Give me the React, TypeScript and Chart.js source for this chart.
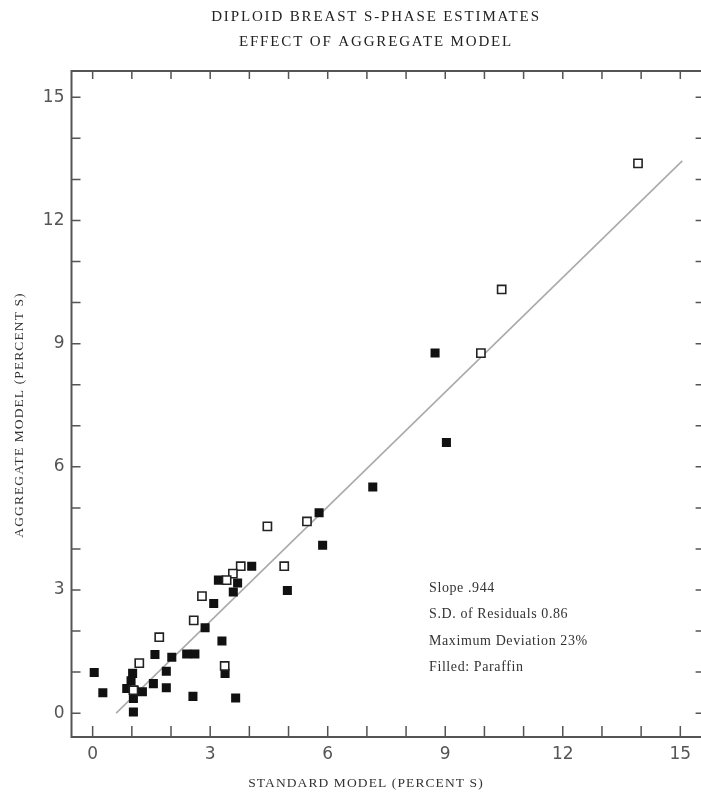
import React, { useEffect, useRef } from "react";
import { Chart, registerables } from "chart.js";

Chart.register(...registerables);

const TITLE_LINES = ["DIPLOID BREAST S-PHASE ESTIMATES", "EFFECT OF AGGREGATE MODEL"];
const X_TITLE = "STANDARD MODEL (PERCENT S)";
const Y_TITLE = "AGGREGATE MODEL (PERCENT S)";
const NOTES = ["Slope .944", "S.D. of Residuals 0.86", "Maximum Deviation 23%", "Filled: Paraffin"];

const TICK_VALUES = [0, 1, 2, 3, 4, 5, 6, 7, 8, 9, 10, 11, 12, 13, 14, 15];
const LABEL_STEP = 3;

// Filled squares (paraffin)
const filledX = [8.74, 9.03, 7.15, 5.78, 5.87, 4.06, 3.70, 3.59, 3.21, 4.97, 3.09, 2.87, 3.30, 2.40, 2.61, 2.02, 1.59, 1.88, 3.38, 0.04, 1.02, 0.98, 1.55, 0.87, 1.88, 0.26, 1.06, 1.27, 1.04, 1.04, 2.56, 3.65];
const filledY = [8.77, 6.59, 5.51, 4.88, 4.09, 3.58, 3.17, 2.95, 3.24, 2.99, 2.67, 2.08, 1.76, 1.44, 1.44, 1.36, 1.43, 1.02, 0.97, 0.99, 0.97, 0.79, 0.72, 0.60, 0.62, 0.50, 0.56, 0.52, 0.36, 0.03, 0.41, 0.37];

// Open squares (fresh)
const openX = [13.92, 10.44, 9.91, 4.46, 5.47, 4.89, 3.78, 3.58, 3.42, 2.79, 2.58, 1.70, 1.19, 3.37, 1.04];
const openY = [13.39, 10.32, 8.77, 4.55, 4.67, 3.58, 3.58, 3.40, 3.24, 2.85, 2.26, 1.85, 1.22, 1.15, 0.56];

// Regression line end points
const fitX = [0.6, 15.05];
const fitY = [0.0, 13.45];

const AXIS_COLOR = "#555";
const SERIF = "'Liberation Serif', 'DejaVu Serif', serif";

const framePlugin = {
  id: "frameAndText",
  afterDatasetsDraw(chart: any) {
    const { ctx, chartArea } = chart;
    const { left, right, top, bottom } = chartArea;
    const xs = chart.scales.x;
    const ys = chart.scales.y;
    ctx.save();
    ctx.strokeStyle = AXIS_COLOR;
    ctx.lineWidth = 2;
    ctx.beginPath();
    ctx.moveTo(left, top);
    ctx.lineTo(right, top);
    ctx.lineTo(right, bottom);
    ctx.lineTo(left, bottom);
    ctx.closePath();
    ctx.stroke();
    ctx.lineWidth = 1.5;
    ctx.beginPath();
    TICK_VALUES.forEach((v) => {
      const py = ys.getPixelForValue(v);
      ctx.moveTo(left, py);
      ctx.lineTo(left + 9, py);
      ctx.moveTo(right, py);
      ctx.lineTo(right - 9, py);
      const px = xs.getPixelForValue(v);
      ctx.moveTo(px, bottom);
      ctx.lineTo(px, bottom - 11);
      ctx.moveTo(px, top);
      ctx.lineTo(px, top + 8);
    });
    ctx.stroke();
    ctx.restore();
  },
  afterDraw(chart: any) {
    const { ctx } = chart;
    ctx.save();
    ctx.fillStyle = "#222";
    ctx.textBaseline = "middle";
    ctx.textAlign = "center";
    ctx.font = `15px ${SERIF}`;
    (ctx as any).letterSpacing = "1.85px";
    ctx.fillText(TITLE_LINES[0], 376, 17);
    ctx.fillText(TITLE_LINES[1], 376, 42);
    ctx.fillStyle = "#333";
    ctx.font = `13.5px ${SERIF}`;
    (ctx as any).letterSpacing = "1.1px";
    ctx.fillText(X_TITLE, 366, 783);
    ctx.save();
    ctx.translate(19, 415);
    ctx.rotate(-Math.PI / 2);
    ctx.fillText(Y_TITLE, 0, 0);
    ctx.restore();
    ctx.textAlign = "left";
    ctx.font = `14px ${SERIF}`;
    (ctx as any).letterSpacing = "0.6px";
    const ny = [588, 614, 641, 667];
    NOTES.forEach((t, i) => ctx.fillText(t, 429, ny[i]));
    ctx.restore();
  },
};

const tickCb = (v: any) => (Number(v) % LABEL_STEP === 0 ? String(v) : "");

export default function App() {
  const ref = useRef<HTMLCanvasElement | null>(null);
  useEffect(() => {
    if (!ref.current) return;
    const chart = new Chart(ref.current, {
      type: "scatter",
      data: {
        datasets: [
          {
            label: "Paraffin",
            data: filledX.map((x, i) => ({ x, y: filledY[i] })),
            pointStyle: "rect",
            pointRadius: 6.4,
            backgroundColor: "#111",
            borderColor: "#111",
            borderWidth: 0,
            order: 2,
          },
          {
            label: "Fresh",
            data: openX.map((x, i) => ({ x, y: openY[i] })),
            pointStyle: "rect",
            pointRadius: 5.8,
            backgroundColor: "#fff",
            borderColor: "#222",
            borderWidth: 1.6,
            order: 1,
          },
          {
            type: "line",
            label: "Fit",
            data: fitX.map((x, i) => ({ x, y: fitY[i] })),
            borderColor: "#aaa",
            borderWidth: 1.6,
            pointRadius: 0,
            showLine: true,
            fill: false,
            order: 3,
          } as any,
        ],
      },
      options: {
        responsive: false,
        animation: false,
        layout: { padding: { top: 71, right: 7, left: 0, bottom: 0 } },
        plugins: { legend: { display: false }, tooltip: { enabled: false }, title: { display: false } },
        scales: {
          x: {
            type: "linear",
            min: -0.54,
            max: 15.62,
            grid: { display: false, drawTicks: false },
            border: { display: false },
            afterBuildTicks: (s: any) => {
              s.ticks = TICK_VALUES.map((value) => ({ value }));
            },
            afterFit: (s: any) => {
              s.height = 59;
            },
            ticks: {
              callback: tickCb,
              autoSkip: false,
              maxRotation: 0,
              padding: 7,
              color: "#555",
              font: { family: "'DejaVu Sans', sans-serif", size: 17 },
            },
          },
          y: {
            type: "linear",
            min: -0.58,
            max: 15.64,
            grid: { display: false, drawTicks: false },
            border: { display: false },
            afterBuildTicks: (s: any) => {
              s.ticks = TICK_VALUES.map((value) => ({ value }));
            },
            afterFit: (s: any) => {
              s.width = 71.5;
            },
            ticks: {
              callback: tickCb,
              autoSkip: false,
              padding: 7,
              color: "#555",
              font: { family: "'DejaVu Sans', sans-serif", size: 17 },
            },
          },
        },
      },
      plugins: [framePlugin],
    });
    return () => chart.destroy();
  }, []);
  return (
    <div style={{ position: "fixed", left: 0, top: 0, width: 701, height: 796, overflow: "hidden", background: "#fff" }}>
      <canvas ref={ref} width={712} height={796} style={{ display: "block" }} />
    </div>
  );
}
